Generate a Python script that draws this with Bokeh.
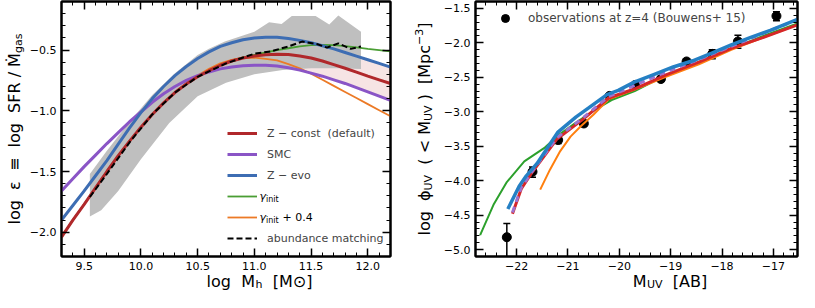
import math
from bokeh.plotting import figure
from bokeh.layouts import row, column
from bokeh.models import (Range1d, SingleIntervalTicker, LinearAxis, Label, Legend,
                          LegendItem, CustomJSTickFormatter)
from bokeh.embed import file_html
from bokeh.resources import INLINE

FONT = "DejaVu Sans"
NB = "\u00a0"

# ---------------- left panel data: log eps vs log Mh ----------------
mh = [9.3, 9.4, 9.5, 9.6, 9.7, 9.8, 9.9, 10.0, 10.1, 10.2, 10.3, 10.4, 10.5, 10.6, 10.7,
      10.8, 10.9, 11.0, 11.1, 11.2, 11.3, 11.4, 11.5, 11.6, 11.7, 11.8, 11.9, 12.0, 12.1, 12.2]
eps_zconst = [-2.04, -1.90, -1.77, -1.635, -1.50, -1.37, -1.25, -1.135, -1.03, -0.935, -0.85,
              -0.78, -0.72, -0.67, -0.625, -0.59, -0.565, -0.548, -0.538, -0.534, -0.537,
              -0.548, -0.565, -0.59, -0.62, -0.65, -0.682, -0.715, -0.745, -0.775]
eps_smc = [-1.66, -1.56, -1.46, -1.365, -1.27, -1.18, -1.09, -1.01, -0.93, -0.86, -0.80,
           -0.75, -0.71, -0.68, -0.655, -0.64, -0.63, -0.625, -0.625, -0.632, -0.645,
           -0.665, -0.69, -0.715, -0.745, -0.775, -0.81, -0.845, -0.88, -0.915]
eps_zevo = [-1.90, -1.78, -1.66, -1.535, -1.41, -1.275, -1.14, -1.015, -0.90, -0.80, -0.71,
            -0.635, -0.57, -0.515, -0.47, -0.44, -0.415, -0.40, -0.395, -0.395, -0.405,
            -0.42, -0.44, -0.465, -0.49, -0.52, -0.55, -0.58, -0.61, -0.64]
eps_gamma = [-2.04, -1.90, -1.77, -1.635, -1.50, -1.37, -1.25, -1.135, -1.03, -0.935, -0.85,
             -0.78, -0.72, -0.665, -0.62, -0.585, -0.56, -0.54, -0.52, -0.50, -0.485,
             -0.47, -0.46, -0.458, -0.46, -0.468, -0.478, -0.49, -0.50, -0.51]
eps_gamma04 = [-2.04, -1.90, -1.77, -1.635, -1.50, -1.37, -1.25, -1.135, -1.03, -0.935, -0.85,
               -0.775, -0.71, -0.655, -0.61, -0.58, -0.565, -0.562, -0.572, -0.585, -0.615,
               -0.65, -0.695, -0.745, -0.795, -0.845, -0.895, -0.945, -0.995, -1.045]
am_mh = [9.55, 9.70, 9.90, 10.10, 10.30, 10.50, 10.75, 11.00, 11.15, 11.30, 11.42, 11.55,
         11.64, 11.74, 11.85, 11.94]
am_eps = [-1.71, -1.52, -1.26, -1.03, -0.85, -0.72, -0.61, -0.53, -0.51, -0.47, -0.43, -0.45,
          -0.48, -0.445, -0.49, -0.47]
am_up_mh = [9.55, 9.70, 9.90, 10.10, 10.30, 10.50, 10.60, 10.74, 10.90, 11.00, 11.13, 11.24,
            11.33, 11.54, 11.66, 11.74, 11.94]
am_up = [-1.52, -1.33, -1.09, -0.87, -0.69, -0.54, -0.49, -0.43, -0.38, -0.35, -0.27, -0.285,
         -0.22, -0.22, -0.29, -0.215, -0.35]
am_lo_mh = [9.55, 9.65, 9.80, 10.00, 10.25, 10.50, 10.75, 11.00, 11.25, 11.50, 11.75, 11.94]
am_lo = [-1.87, -1.82, -1.66, -1.40, -1.10, -0.88, -0.77, -0.70, -0.665, -0.65, -0.65, -0.655]
band_start = 10.6

# ---------------- right panel data: cumulative UV LF ----------------
obs_m = [-22.19, -21.69, -21.19, -20.69, -20.19, -19.69, -19.19, -18.69, -18.19, -17.69, -16.94]
obs_phi = [-4.82, -3.87, -3.41, -3.17, -2.77, -2.61, -2.525, -2.27, -2.16, -1.98, -1.61]
obs_up = [-4.62, -3.80, -3.37, -3.13, -2.74, -2.58, -2.49, -2.235, -2.10, -1.89, -1.55]
obs_lo = [-5.22, -3.95, -3.46, -3.21, -2.80, -2.64, -2.56, -2.31, -2.23, -2.08, -1.68]

zevo_m = [-22.17, -21.95, -21.81, -21.60, -21.20, -20.84, -20.59, -20.24, -20.02, -19.71,
          -19.33, -18.95, -18.57, -18.20, -17.82, -17.44, -17.06, -16.53]
zevo_phi = [-4.41, -4.08, -3.93, -3.75, -3.30, -3.075, -2.94, -2.75, -2.69, -2.57,
            -2.46, -2.35, -2.26, -2.15, -2.03, -1.92, -1.82, -1.66]
zconst_m = [-22.08, -21.91, -21.69, -21.22, -20.71, -20.21, -19.71, -19.08, -18.45, -17.82,
            -17.19, -16.53]
zconst_phi = [-4.48, -4.12, -3.87, -3.40, -3.11, -2.80, -2.67, -2.46, -2.28, -2.08, -1.92, -1.74]
smc_m = [-22.08, -21.91, -21.69, -21.22, -20.71, -20.21, -19.71, -19.08, -18.45, -17.82,
         -17.19, -16.53]
smc_phi = [-4.46, -4.10, -3.86, -3.38, -3.09, -2.78, -2.62, -2.42, -2.24, -2.05, -1.86, -1.665]
gamma_m = [-22.71, -22.45, -22.19, -21.85, -21.45, -21.15, -20.85, -20.45, -20.15, -19.70,
           -19.10, -18.45, -17.80, -17.20, -16.53]
gamma_phi = [-4.79, -4.35, -4.02, -3.72, -3.52, -3.32, -3.16, -2.96, -2.83, -2.70,
             -2.47, -2.28, -2.08, -1.90, -1.72]
gamma04_m = [-21.54, -21.35, -21.15, -20.95, -20.75, -20.50, -20.21, -19.71, -19.08, -18.45,
             -17.82, -17.19, -16.53]
gamma04_phi = [-4.13, -3.84, -3.57, -3.36, -3.21, -3.04, -2.82, -2.68, -2.49, -2.31,
               -2.10, -1.92, -1.74]

# ---------------- layout constants ----------------
TOTAL_H = 292
B_TOP, H, B_BOT = 1, 255, 17
P_H = B_TOP + H + B_BOT        # 273
XT_H = TOTAL_H - P_H           # 19
FRAME_CY = TOTAL_H - (B_TOP + H / 2.0)

YT1_W = 26
P1_L, W1, P1_R = 32, 332, 12
P1_W = P1_L + W1 + P1_R
YT2_W = 38
P2_L, W2, P2_R = 32, 325, 2
P2_W = P2_L + W2 + P2_R


def fmt(dec):
    return CustomJSTickFormatter(code="return tick.toFixed(%d).replace('-', '\u2212');" % dec)


def setup(p, xint, yint, xdec, ydec):
    p.xgrid.visible = False
    p.ygrid.visible = False
    p.outline_line_color = "black"
    p.outline_line_width = 2
    xt = SingleIntervalTicker(interval=xint, num_minor_ticks=5)
    yt = SingleIntervalTicker(interval=yint, num_minor_ticks=5)
    bottom = p.below[0]
    left = p.left[0]
    bottom.ticker = xt
    left.ticker = yt
    bottom.formatter = fmt(xdec)
    left.formatter = fmt(ydec)
    top = LinearAxis(ticker=xt, formatter=CustomJSTickFormatter(code="return '';"))
    right = LinearAxis(ticker=yt, formatter=CustomJSTickFormatter(code="return '';"))
    p.add_layout(top, "above")
    p.add_layout(right, "right")
    for ax in (bottom, left, top, right):
        ax.major_tick_in = 8
        ax.major_tick_out = 0
        ax.minor_tick_in = 4
        ax.minor_tick_out = 0
        ax.major_tick_line_width = 1.5
        ax.minor_tick_line_width = 1
        ax.major_tick_line_color = "black"
        ax.minor_tick_line_color = "black"
        ax.axis_line_width = 2
        ax.axis_line_color = "black"
        ax.major_label_text_font = FONT
        ax.major_label_text_font_size = "11px"
        ax.major_label_text_color = "black"
        ax.major_label_standoff = 5
    for ax in (top, right):
        ax.major_label_standoff = 0


def text_fig(w, h):
    return figure(width=w, height=h, x_range=Range1d(0, 1), y_range=Range1d(0, 1),
                  output_backend="svg", toolbar_location=None, x_axis_type=None,
                  y_axis_type=None, min_border=0, outline_line_color=None)


def lab(p, text, x, y, size="16px", angle=0.0, baseline="alphabetic", style="normal"):
    p.add_layout(Label(x=x, y=y, x_units="screen", y_units="screen", text=text, angle=angle,
                       text_font=FONT, text_font_size=size, text_align="left",
                       text_baseline=baseline, text_font_style=style, text_color="black"))


def runs(p, pieces, start, base, vertical=False):
    """Place text runs (text, size, width, shift) one after another."""
    pos = start
    for txt, sz, w, sh in pieces:
        if vertical:
            lab(p, txt, base + sh, pos, size="%gpx" % sz, angle=math.pi / 2)
        else:
            lab(p, txt, pos, base + sh, size="%gpx" % sz)
        pos += w


# ================= LEFT =================
p1 = figure(width=P1_W, height=P_H, x_range=Range1d(9.3, 12.2), y_range=Range1d(-2.2, -0.1),
            output_backend="svg", toolbar_location=None, min_border_left=P1_L,
            min_border_right=P1_R, min_border_top=B_TOP, min_border_bottom=B_BOT)
setup(p1, 0.5, 0.5, 1, 1)

band_idx = [i for i, x in enumerate(mh) if x >= band_start]
p1.varea(x=[mh[i] for i in band_idx], y1=[eps_smc[i] for i in band_idx],
         y2=[eps_zevo[i] for i in band_idx], fill_color="#b22222", fill_alpha=0.12)
p1.patch(am_up_mh + am_lo_mh[::-1], am_up + am_lo[::-1], fill_color="#bfbfbf",
         line_color=None)

r_g = p1.line(mh, eps_gamma, line_color="#4a9e34", line_width=1.8)
r_o = p1.line(mh, eps_gamma04, line_color="#ec7a26", line_width=1.8)
r_p = p1.line(mh, eps_smc, line_color="#8a55c6", line_width=3)
r_b = p1.line(mh, eps_zevo, line_color="#3d6db3", line_width=3)
r_r = p1.line(mh, eps_zconst, line_color="#b0282b", line_width=3)
r_k = p1.line(am_mh, am_eps, line_color="black", line_width=2, line_dash="6 3")

LEG_X, LEG_Y = 166, 8
leg1 = Legend(items=[LegendItem(label="Z " + "\u2212" + " const" + NB + NB + "(default)",
                                renderers=[r_r]),
                     LegendItem(label="SMC", renderers=[r_p]),
                     LegendItem(label="Z \u2212 evo", renderers=[r_b]),
                     LegendItem(label=NB, renderers=[r_g]),
                     LegendItem(label=NB, renderers=[r_o]),
                     LegendItem(label="abundance matching", renderers=[r_k])],
              location=(LEG_X, LEG_Y), glyph_width=30, glyph_height=20, label_height=20,
              spacing=1, padding=0, margin=0, label_standoff=10,
              label_text_font=FONT, label_text_font_size="11px",
              border_line_alpha=0, background_fill_alpha=0)
p1.add_layout(leg1)
LX = LEG_X + 32
top_leg = LEG_Y + 6 * 20 + 5
c3 = top_leg - (3 * 21 + 10)
c4 = top_leg - (4 * 21 + 10)
lab(p1, "\u03b3", LX, c3, size="11px", baseline="middle", style="italic")
lab(p1, "init", LX + 6.5, c3 - 3, size="8px", baseline="middle")
lab(p1, "\u03b3", LX, c4, size="11px", baseline="middle", style="italic")
lab(p1, "init", LX + 6.5, c4 - 3, size="8px", baseline="middle")
lab(p1, NB + "+" + NB + "0.4", LX + 19.5, c4, size="11px", baseline="middle")

# y title strip (left): log eps = log SFR / Mdot_gas
yt1 = text_fig(YT1_W, TOTAL_H)
yl_pieces = [("log" + NB + NB + "\u03b5" + NB + NB + "\u2261" + NB + NB + "log" + NB + NB
              + "SFR" + NB + "/" + NB + "\u1e40", 16, 171.4, 0),
             ("gas", 11, 19.5, 4)]
runs(yt1, yl_pieces, FRAME_CY - 190.9 / 2, 14, vertical=True)

# x title strip (left): log M_h [M_sun]
xt1 = text_fig(P1_W, XT_H)
xl_pieces = [("log" + NB + NB + "M", 16, 48.9, 0), ("h", 11, 7.0, -3),
             (NB + NB + "[M\u2299]", 16, 49.9, 0)]
runs(xt1, xl_pieces, P1_L + W1 / 2 - 105.8 / 2, 11)

# ================= RIGHT =================
p2 = figure(width=P2_W, height=P_H, x_range=Range1d(-22.8, -16.53),
            y_range=Range1d(-5.1, -1.4), output_backend="svg", toolbar_location=None,
            min_border_left=P2_L, min_border_right=P2_R, min_border_top=B_TOP,
            min_border_bottom=B_BOT)
setup(p2, 1, 0.5, 0, 1)

p2.segment(obs_m, obs_lo, obs_m, obs_up, line_color="black", line_width=1.5)
p2.scatter(obs_m, obs_up, marker="dash", size=7, line_color="black", line_width=1.5)
p2.scatter(obs_m, obs_lo, marker="dash", size=7, line_color="black", line_width=1.5)
r_obs = p2.scatter(obs_m, obs_phi, marker="circle", size=9, fill_color="black",
                   line_color="black")
p2.line(gamma_m, gamma_phi, line_color="#2ca02c", line_width=2)
p2.line(gamma04_m, gamma04_phi, line_color="#ff7f0e", line_width=2)
p2.line(zconst_m, zconst_phi, line_color="#d62728", line_width=3)
p2.line(smc_m, smc_phi, line_color="#9e72cf", line_width=3, line_dash="6 5")
p2.line(zevo_m, zevo_phi, line_color="#2580c4", line_width=3.5)

leg2 = Legend(items=[LegendItem(label="observations at z=4 (Bouwens+ 15)", renderers=[r_obs])],
              location=(20, H - 27), glyph_width=20, glyph_height=20, label_height=20,
              padding=0, margin=0, label_standoff=13, label_text_font=FONT,
              label_text_font_size="12px", border_line_alpha=0, background_fill_alpha=0)
p2.add_layout(leg2)

# y title strip (right): log phi_UV (< M_UV) [Mpc^-3]
yt2 = text_fig(YT2_W, TOTAL_H)
yr_pieces = [("log" + NB + NB + "\u03d5", 16, 45.0, 0), ("UV", 11, 15.6, 4),
             (NB + NB + "(" + NB + "<" + NB + "M", 16, 53.8, 0), ("UV", 11, 15.6, 4),
             (NB + ")" + NB + NB + "[Mpc", 16, 60.5, 0), ("\u22123", 11, 16.2, -6),
             ("]", 16, 6.2, 0)]
runs(yt2, yr_pieces, FRAME_CY - 212.9 / 2, 22, vertical=True)

# x title strip (right): M_UV [AB]
xt2 = text_fig(P2_W, XT_H)
xr_pieces = [("M", 16, 14.3, 0), ("UV", 11, 15.6, -3), (NB + NB + "[AB]", 16, 44.6, 0)]
runs(xt2, xr_pieces, P2_L + W2 / 2 - 74.5 / 2, 11)

layout = row(yt1, column(p1, xt1), yt2, column(p2, xt2))
with open("out.html", "w", encoding="utf-8") as f:
    f.write(file_html(layout, INLINE))
